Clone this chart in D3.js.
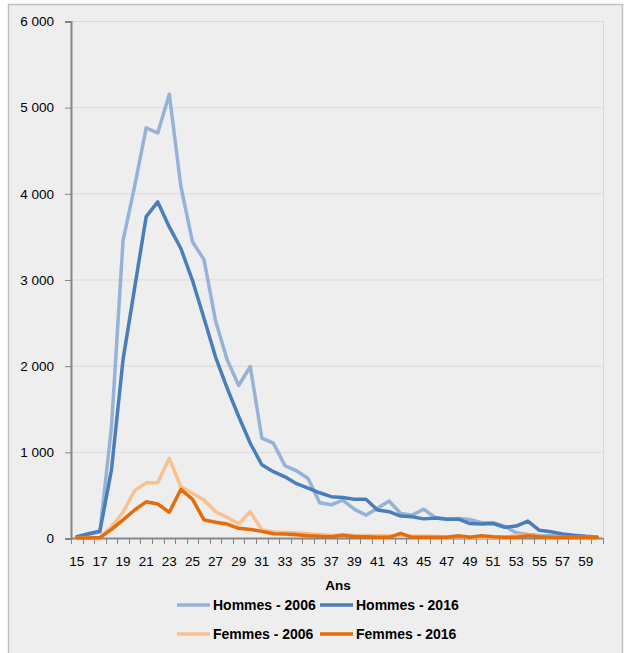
<!DOCTYPE html>
<html><head><meta charset="utf-8">
<script src="https://cdn.jsdelivr.net/npm/d3@7"></script>
<style>html,body{margin:0;padding:0;background:#fff}</style>
</head><body>
<svg id="c" width="627" height="653"></svg>
<script>
const ages = [15,16,17,18,19,20,21,22,23,24,25,26,27,28,29,30,31,32,33,34,35,36,37,38,39,40,41,42,43,44,45,46,47,48,49,50,51,52,53,54,55,56,57,58,59,60];
const hommes2006 = [10,40,70,1290,3450,4080,4760,4700,5150,4080,3440,3230,2520,2070,1770,1990,1160,1100,840,780,690,410,385,440,335,265,345,430,285,265,335,237,220,225,215,178,178,136,60,40,30,25,20,15,10,5];
const hommes2016 = [15,50,80,790,2070,2900,3730,3900,3610,3360,2990,2550,2100,1740,1410,1100,850,770,710,630,580,525,480,470,450,450,325,305,255,247,222,232,218,218,168,162,168,124,139,197,89,73,46,31,19,12];
const femmes2006 = [0,0,5,130,300,550,640,640,925,595,520,440,305,240,162,305,95,70,65,60,50,40,30,40,30,30,25,25,20,20,20,20,15,15,10,10,10,10,30,30,20,10,5,5,5,5];
const femmes2016 = [0,0,5,100,210,325,420,395,298,565,450,210,182,162,112,100,77,50,46,39,27,19,15,31,15,15,8,8,54,8,8,8,10,25,10,25,15,10,10,25,15,10,5,10,5,5];
const yTicks = [0,1000,2000,3000,4000,5000,6000];
const yTickLabels = ["0","1 000","2 000","3 000","4 000","5 000","6 000"];
const xLabelAges = [15,17,19,21,23,25,27,29,31,33,35,37,39,41,43,45,47,49,51,53,55,57,59];
const seriesNames = ["Hommes - 2006","Hommes - 2016","Femmes - 2006","Femmes - 2016"];
const seriesColors = ["#95b3d7","#4a7ebb","#fac090","#e46c0a"];
const seriesData = [hommes2006,hommes2016,femmes2006,femmes2016];

const svg = d3.select("#c");
const L=71, R=603, T=21, B=538;
const FONT = "Liberation Sans, Arial, sans-serif";
svg.append("rect").attr("x",8.5).attr("y",4.5).attr("width",614).attr("height",660)
  .attr("fill","#eeeeee").attr("stroke","#c0c0c0").attr("stroke-width",1.5);

const x = d3.scaleBand().domain(ages).range([L,R]).paddingInner(0).paddingOuter(0);
const y = d3.scaleLinear().domain([0,6000]).range([B,T]);
const cx = a => x(a)+x.bandwidth()/2;

// gridlines
svg.append("g").selectAll("line").data(yTicks.filter(d=>d>0)).join("line")
  .attr("x1",L).attr("x2",R).attr("y1",d=>y(d)+0.5).attr("y2",d=>y(d)+0.5)
  .attr("stroke","#d9d9d9").attr("stroke-width",1);
svg.append("line").attr("x1",R+0.5).attr("x2",R+0.5).attr("y1",T).attr("y2",B)
  .attr("stroke","#d9d9d9");

// y axis
const yAxis = d3.axisLeft(y).tickValues(yTicks).tickSize(6).tickPadding(11)
  .tickFormat((d,i)=>yTickLabels[i]);
const gy = svg.append("g").attr("transform",`translate(${L},0.5)`).call(yAxis);
gy.select(".domain").attr("stroke","#868686").attr("stroke-width",2);
gy.selectAll(".tick line").attr("stroke","#868686");
gy.selectAll("text").attr("font-family",FONT).attr("font-size",13.5).attr("fill","#000");

// x axis
const boundaries = ages.map(a=>x(a)).concat([R]);
const gx = svg.append("g");
gx.append("line").attr("x1",L).attr("x2",R).attr("y1",B+0.5).attr("y2",B+0.5).attr("stroke","#868686").attr("stroke-width",2);
gx.selectAll("line.t").data(boundaries).join("line").attr("class","t")
  .attr("x1",d=>Math.round(d)+0.5).attr("x2",d=>Math.round(d)+0.5).attr("y1",B).attr("y2",B+6)
  .attr("stroke","#868686");
gx.selectAll("text").data(xLabelAges).join("text")
  .attr("x",d=>cx(d)).attr("y",565.5).attr("text-anchor","middle")
  .attr("font-family",FONT).attr("font-size",13.5).attr("fill","#000")
  .text(d=>d);

svg.append("text").attr("x",338).attr("y",590).attr("text-anchor","middle")
  .attr("font-family",FONT).attr("font-size",13.5).attr("font-weight","bold")
  .text("Ans");

// lines
const line = d3.line().x((d,i)=>cx(ages[i])).y(d=>y(d));
seriesData.forEach((s,k)=>{
  svg.append("path").datum(s).attr("d",line).attr("fill","none")
    .attr("stroke",seriesColors[k]).attr("stroke-width",3.5).attr("stroke-linejoin","round").attr("stroke-linecap","round");
});

// legend
const legPos = [[177,605],[320,605],[177,634],[320,634]];
seriesNames.forEach((n,k)=>{
  const [lx,ly]=legPos[k];
  svg.append("line").attr("x1",lx).attr("x2",lx+33).attr("y1",ly).attr("y2",ly)
    .attr("stroke",seriesColors[k]).attr("stroke-width",3.5);
  svg.append("text").attr("x",lx+36).attr("y",ly+5)
    .attr("font-family",FONT).attr("font-size",14).attr("font-weight","bold")
    .attr("fill","#000").text(n);
});
</script>
</body></html>
